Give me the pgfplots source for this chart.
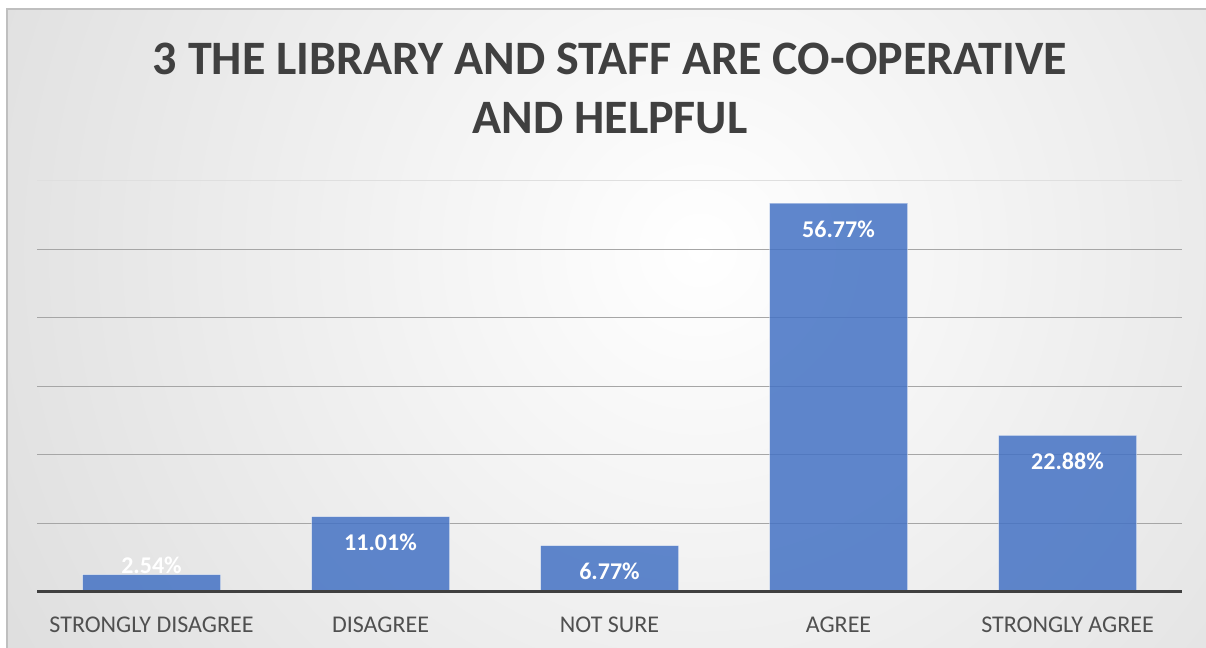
\documentclass[border=0pt]{standalone}
\usepackage{fontspec}
\setmainfont{Carlito}
\usepackage{pgfplots}
\pgfplotsset{compat=1.18}
\definecolor{barblue}{HTML}{4472C4}
\definecolor{bgedge}{HTML}{C2C2C2}
\definecolor{titlegray}{HTML}{404040}
\definecolor{labelgray}{HTML}{505050}
\definecolor{gridgray}{HTML}{A6A6A6}

\begin{document}
\begin{tikzpicture}[x=1bp,y=1bp]
\useasboundingbox (0,0) rectangle (1206,648);
\fill[white] (0,0) rectangle (1206,648);
% background with radial gradient
\begin{scope}
\clip (7,0) rectangle (1206,639);
\fill[bgedge] (7,0) rectangle (1206,639);
\shade[inner color=white, outer color=bgedge] (700,398) circle (1500);
\end{scope}
\draw[gray!50, line width=1.2bp] (7,0) -- (7,639) -- (1206,639);

% title
\node[font=\bfseries\fontsize{48bp}{58bp}\selectfont, text=titlegray, anchor=base]
  at (610,573) {3 THE LIBRARY AND STAFF ARE CO-OPERATIVE};
\node[font=\bfseries\fontsize{48bp}{58bp}\selectfont, text=titlegray, anchor=base]
  at (610,514) {AND HELPFUL};

\begin{axis}[
    at={(37bp,56bp)}, anchor=south west,
    scale only axis, width=1145bp, height=411bp,
    xmin=-0.5, xmax=4.5, ymin=0, ymax=60,
    axis line style={draw=none}, tick style={draw=none},
    ytick={10,20,...,50}, yticklabels={},
    extra y ticks={60}, extra y tick labels={},
    extra y tick style={grid style={gray!25, line width=1bp}},
    ymajorgrids, grid style={gridgray, line width=1bp},
    xtick={0,...,4},
    xticklabels={STRONGLY DISAGREE, DISAGREE, NOT SURE, AGREE, STRONGLY AGREE},
    xticklabel style={font=\fontsize{24bp}{28bp}\selectfont, text=labelgray,
      anchor=base, yshift=-36bp},
    /pgf/number format/assume math mode=true,
    ybar, bar width=138bp,
    visualization depends on={y \as \rawy},
    nodes near coords={\pgfmathprintnumber[fixed,fixed zerofill,precision=2,assume math mode=true]{\pgfplotspointmeta}\%},
    every node near coord/.append style={font=\bfseries\fontsize{24bp}{28bp}\selectfont,
      text=white, text opacity=1, anchor=center,
      yshift={ifthenelse(\rawy<5,9,-26)}},
    clip=false,
]
\addplot[fill=barblue, fill opacity=0.85, draw=white, draw opacity=0.4, line width=0.8bp]
  coordinates {(0,2.54) (1,11.01) (2,6.77) (3,56.77) (4,22.88)};
\draw[titlegray, line width=3bp] (axis cs:-0.5,0) -- (axis cs:4.5,0);
\end{axis}
\end{tikzpicture}
\end{document}
